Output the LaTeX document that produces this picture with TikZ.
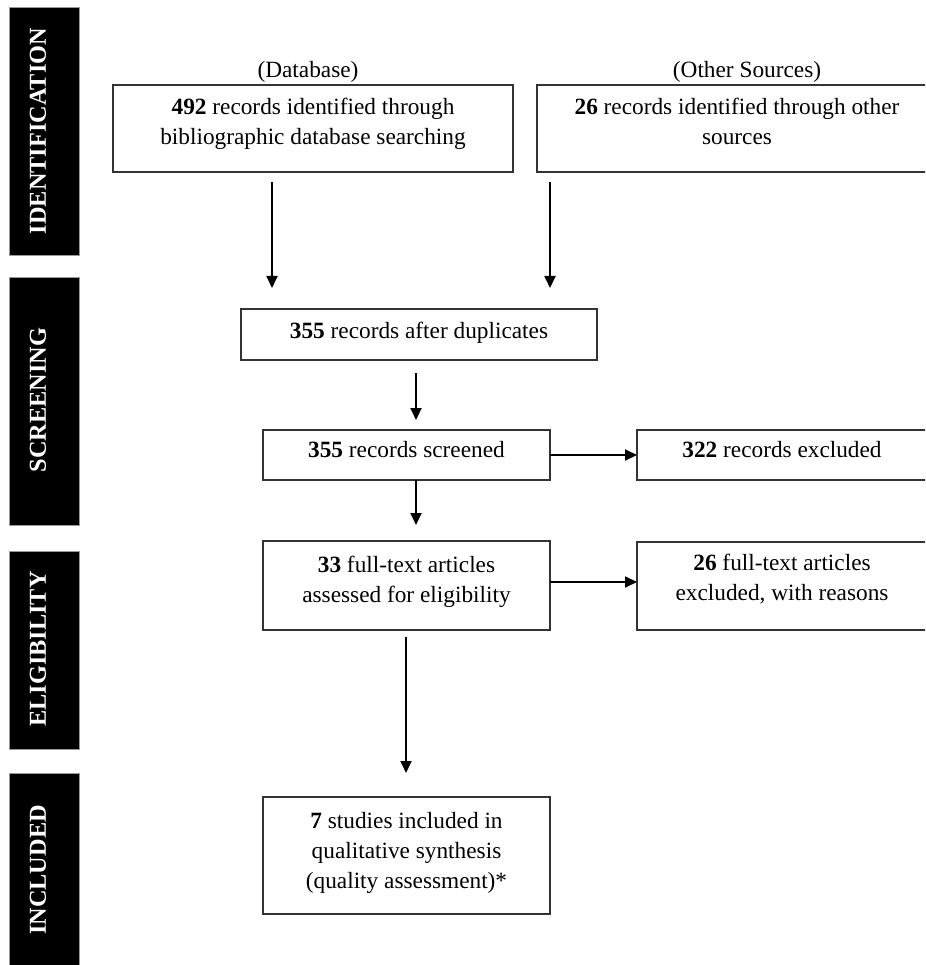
\documentclass[tikz,border=0pt]{standalone}
\usepackage{fontspec}
\setmainfont{Liberation Serif}
\usetikzlibrary{arrows.meta}
\begin{document}
\begin{tikzpicture}[x=1pt,y=-1pt,
  stage/.style={fill=black, draw=black!40, line width=0.8pt, anchor=north west, inner sep=0pt, outer sep=0pt, minimum width=70pt},
  stagetext/.style={text=white, font=\fontsize{24.3}{29}\selectfont\bfseries, rotate=90, inner sep=0pt},
  box/.style={draw=black!80, line width=1.8pt, anchor=north west, inner sep=0pt, outer sep=0pt},
  boxtext/.style={anchor=north, align=center, inner sep=0pt, font=\fontsize{23.3}{30}\selectfont},
  srclabel/.style={anchor=base, inner sep=0pt, font=\fontsize{23.3}{30}\selectfont},
  arr/.style={line width=1.8pt, draw=black, -{Triangle[length=12pt,width=11pt]}}
]
\clip (0,0) rectangle (925,965);
\fill[white] (0,0) rectangle (925,965);

% stage bars
\node[stage, minimum height=248pt] (s1) at (9,7) {};
\node[stage, minimum height=248pt] (s2) at (9,277) {};
\node[stage, minimum height=198pt] (s3) at (9,551) {};
\node[stage, minimum height=200pt] (s4) at (9,773) {};
\node[stagetext] (l1) at (38,131) {IDENTIFICATION};
\node[stagetext] (l2) at (38,400) {SCREENING};
\node[stagetext] (l3) at (38,649) {ELIGIBILITY};
\node[stagetext] (l4) at (38,870) {INCLUDED};

% source labels
\node[srclabel] (db) at (308,78) {(Database)};
\node[srclabel] (os) at (747,78) {(Other Sources)};

% boxes
\node[box, minimum width=400pt, minimum height=87pt] (b1) at (113,85) {};
\node[box, minimum width=400pt, minimum height=87pt] (b2) at (537,85) {};
\node[box, minimum width=356pt, minimum height=51pt] (dup) at (241,309) {};
\node[box, minimum width=287pt, minimum height=50pt] (scr) at (263,430) {};
\node[box, minimum width=290pt, minimum height=50pt] (ex1) at (637,430) {};
\node[box, minimum width=287pt, minimum height=89pt] (elig) at (263,541) {};
\node[box, minimum width=290pt, minimum height=88pt] (ex2) at (637,542) {};
\node[box, minimum width=287pt, minimum height=117pt] (inc) at (263,797) {};

% box texts
\node[boxtext, yshift=-8pt] (t1) at (b1.north) {\strut\textbf{492} records identified through\\\strut bibliographic database searching};
\node[boxtext, yshift=-8pt] (t2) at (b2.north) {\strut\textbf{26} records identified through other\\\strut sources};
\node[boxtext, yshift=-8pt] (t3) at (dup.north) {\strut\textbf{355} records after duplicates};
\node[boxtext, yshift=-6pt] (t4) at (scr.north) {\strut\textbf{355} records screened};
\node[boxtext, yshift=-6pt] (t5) at (ex1.north) {\strut\textbf{322} records excluded};
\node[boxtext, yshift=-10pt] (t6) at (elig.north) {\strut\textbf{33} full-text articles\\\strut assessed for eligibility};
\node[boxtext, yshift=-7pt] (t7) at (ex2.north) {\strut\textbf{26} full-text articles\\\strut excluded, with reasons};
\node[boxtext, yshift=-10pt] (t8) at (inc.north) {\strut\textbf{7} studies included in\\\strut qualitative synthesis\\\strut (quality assessment)*};

% connectors
\coordinate (c1) at (272,0);
\coordinate (c2) at (550,0);
\coordinate (c3) at (416,0);
\coordinate (c4) at (406,0);
\coordinate (r2) at (0,582);
\draw[arr, shorten <=10pt, shorten >=21pt] (b1.south -| c1) -- (dup.north -| c1);
\draw[arr, shorten <=10pt, shorten >=21pt] (b2.south -| c2) -- (dup.north -| c2);
\draw[arr, shorten <=13pt, shorten >=10pt] (dup.south -| c3) -- (scr.north -| c3);
\draw[arr, shorten >=16pt] (scr.south -| c3) -- (elig.north -| c3);
\draw[arr, shorten <=7pt, shorten >=24pt] (elig.south -| c4) -- (inc.north -| c4);
\draw[arr] (scr.east) -- (scr.east -| ex1.west);
\draw[arr] (elig.east |- r2) -- (ex2.west |- r2);
\end{tikzpicture}
\end{document}
